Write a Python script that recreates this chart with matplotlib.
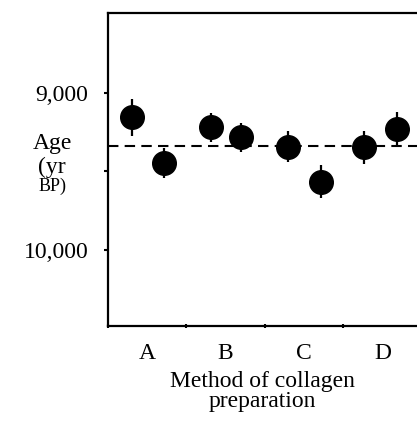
import matplotlib
matplotlib.use("Agg")
import matplotlib.pyplot as plt

# Categorías (métodos de preparación del colágeno)
metodos = ["A", "B", "C", "D"]

# Dos muestras por método: posición dentro de la categoría, edad y error
posicion_muestra = [0.30, 0.72, 1.31, 1.70, 2.30, 2.71, 3.27, 3.68]
edad = [9155, 9444, 9218, 9282, 9342, 9565, 9346, 9229]
error = [118, 96, 92, 94, 100, 105, 106, 106]
edad_media = 9338

plt.rcParams["font.family"] = ["Liberation Serif", "DejaVu Serif"]

fig = plt.figure(figsize=(4.17, 4.29), dpi=100)
ax = fig.add_axes([108 / 417, 103 / 429, 309 / 417, 313 / 429])

ax.axhline(edad_media, color="black", linestyle=(0, (5, 3)), linewidth=1.5, zorder=1)
ax.errorbar(posicion_muestra, edad, yerr=error, fmt="o", color="black",
            markersize=17, elinewidth=1.6, capsize=0, zorder=3)

ax.set_xlim(0, 3.94)
ax.set_ylim(10485, 8490)

# Ejes
for lado in ["left", "bottom", "top"]:
    ax.spines[lado].set_linewidth(1.6)
ax.spines["right"].set_visible(False)

ax.set_yticks([9000, 10000])
ax.set_yticklabels(["9,000", "10,000"], fontsize=17)
ax.set_yticks([9500], minor=True)
ax.tick_params(axis="y", which="both", direction="out", length=3, width=1.5, pad=11)

ax.set_xticks([0, 1, 2, 3])
ax.set_xticklabels([])
ax.set_xticks([0.5, 1.5, 2.5, 3.5], minor=True)
ax.set_xticklabels(metodos, minor=True, fontsize=17)
ax.tick_params(axis="x", which="major", direction="inout", length=3, width=1.5)
ax.tick_params(axis="x", which="minor", length=0, pad=12)

ax.set_xlabel("Method of collagen\npreparation", fontsize=17, linespacing=0.95, labelpad=5)

# Etiqueta del eje y en tres líneas
ax.text(-0.181, 0.582, "Age", transform=ax.transAxes, fontsize=17, ha="center", va="center")
ax.text(-0.181, 0.508, "(yr", transform=ax.transAxes, fontsize=17, ha="center", va="center")
ax.text(-0.181, 0.445, "BP)", transform=ax.transAxes, fontsize=13, ha="center", va="center")

plt.savefig("out.png", dpi=100)
